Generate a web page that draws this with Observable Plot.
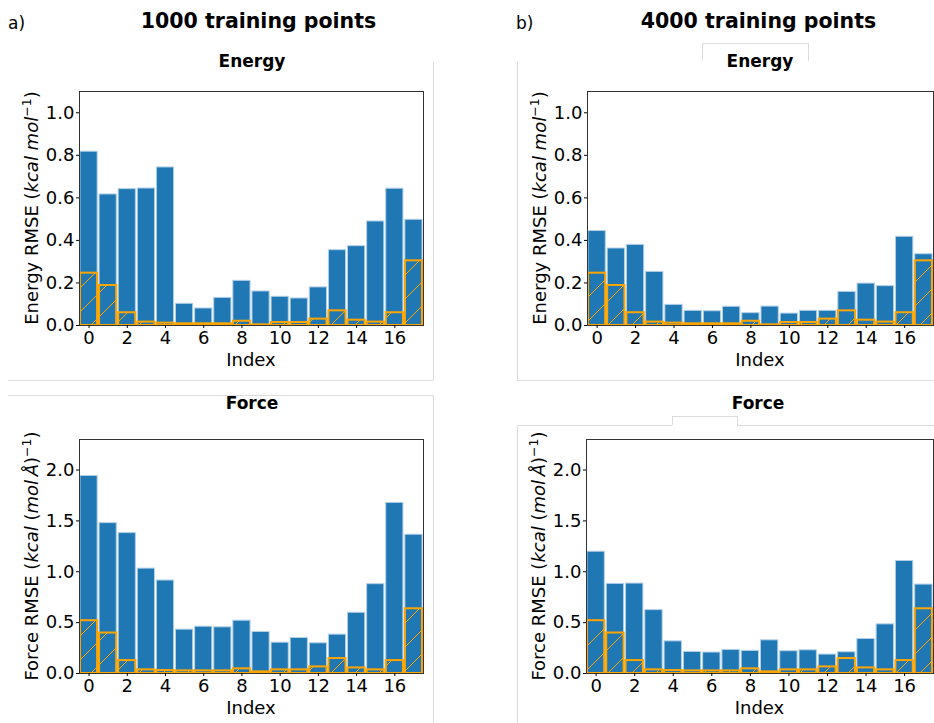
<!DOCTYPE html>
<html>
<head>
<meta charset="utf-8">
<script src="https://cdn.jsdelivr.net/npm/d3@7"></script>
<script src="https://cdn.jsdelivr.net/npm/@observablehq/plot@0.6"></script>
<style>
  body { margin: 0; background: #fff; font-family: "DejaVu Sans", sans-serif; }
  #fig { position: relative; width: 934px; height: 723px; overflow: hidden; background: #fff; }
  .panel { position: absolute; }
  .ln { position: absolute; background: #dcdcdc; }
  #overlay { position: absolute; left: 0; top: 0; pointer-events: none; }
</style>
</head>
<body>
<svg width="0" height="0" style="position:absolute">
  <defs>
    <pattern id="hatch" patternUnits="userSpaceOnUse" width="24" height="24">
      <path d="M0,24 L24,0 M-2,2 L2,-2 M22,26 L26,22" stroke="orange" stroke-width="1" fill="none"/>
    </pattern>
  </defs>
</svg>
<div id="fig"></div>
<script>
// ---------------- data ----------------
const indices = [0, 1, 2, 3, 4, 5, 6, 7, 8, 9, 10, 11, 12, 13, 14, 15, 16, 17];
const xTicks = [0, 2, 4, 6, 8, 10, 12, 14, 16];
const energyTicks = [0.0, 0.2, 0.4, 0.6, 0.8, 1.0];
const forceTicks = [0.0, 0.5, 1.0, 1.5, 2.0];

const energy1000 = [0.817, 0.616, 0.641, 0.644, 0.743, 0.102, 0.080, 0.130, 0.210, 0.160, 0.135, 0.127, 0.179, 0.354, 0.373, 0.489, 0.643, 0.497];
const energy4000 = [0.444, 0.362, 0.379, 0.252, 0.097, 0.069, 0.067, 0.088, 0.058, 0.089, 0.056, 0.069, 0.069, 0.158, 0.197, 0.185, 0.417, 0.335];
const energyRef  = [0.246, 0.188, 0.060, 0.016, 0.011, 0.008, 0.008, 0.008, 0.020, 0.003, 0.014, 0.014, 0.030, 0.069, 0.025, 0.016, 0.060, 0.304];

const force1000 = [1.941, 1.478, 1.380, 1.031, 0.914, 0.431, 0.460, 0.454, 0.519, 0.408, 0.303, 0.349, 0.297, 0.382, 0.597, 0.878, 1.677, 1.364];
const force4000 = [1.197, 0.881, 0.884, 0.623, 0.316, 0.212, 0.206, 0.232, 0.222, 0.326, 0.219, 0.228, 0.186, 0.209, 0.339, 0.483, 1.106, 0.874];
const forceRef  = [0.519, 0.398, 0.127, 0.036, 0.029, 0.026, 0.026, 0.026, 0.046, 0.016, 0.036, 0.036, 0.065, 0.147, 0.055, 0.036, 0.127, 0.636];

const panelTitles = ["1000 training points", "4000 training points"];
const panelLetters = ["a)", "b)"];
const subTitles = ["Energy", "Force"];

// ---------------- drawing ----------------
const fig = document.getElementById("fig");
const FONT = "DejaVu Sans, sans-serif";

function panel(cfg) {
  const blue = indices.map((i, k) => ({index: i, value: cfg.values[k]}));
  const ref = indices.map((i, k) => ({index: i, value: cfg.ref[k]}));
  const chart = Plot.plot({
    width: cfg.width,
    height: cfg.height,
    marginLeft: cfg.ml, marginRight: cfg.mr, marginTop: cfg.mt, marginBottom: cfg.mb,
    style: {fontFamily: FONT, fontSize: "18px", color: "#000", background: "transparent", overflow: "visible"},
    x: {type: "band", domain: indices, paddingInner: 0.1, paddingOuter: 0.05, round: false},
    y: {domain: [0, cfg.yMax]},
    marks: [
      Plot.barY(blue, {x: "index", y: "value", fill: "#1f77b4", stroke: "#b3d0e8", strokeWidth: 1}),
      Plot.barY(ref, {x: "index", y: "value", fill: "url(#hatch)", stroke: "orange", strokeWidth: 2}),
      Plot.frame({stroke: "#333", strokeWidth: 1}),
      Plot.axisX({ticks: xTicks, tickSize: 3, tickPadding: 3, label: null}),
      Plot.axisY({ticks: cfg.yTicks, tickFormat: d => d.toFixed(1), tickSize: 3, tickPadding: 2, label: null})
    ]
  });
  const svg = d3.select(chart);
  const fx = (cfg.ml + cfg.width - cfg.mr) / 2;
  const fy = (cfg.mt + cfg.height - cfg.mb) / 2;
  // x label
  svg.append("text")
    .attr("x", fx).attr("y", cfg.height - cfg.mb + 41)
    .attr("text-anchor", "middle")
    .attr("font-family", FONT).attr("font-size", 18).attr("fill", "#000")
    .text("Index");
  // y label with italic units & superscript
  const t = svg.append("text")
    .attr("transform", `translate(${cfg.ml - 41},${fy}) rotate(-90)`)
    .attr("text-anchor", "middle")
    .attr("font-family", FONT).attr("font-size", 18).attr("fill", "#000");
  cfg.ylabel.forEach(part => {
    const s = t.append("tspan").text(part.t);
    if (part.i) s.attr("font-style", "italic");
    if (part.sup) s.attr("font-size", 12.6).attr("dy", -7);
    if (part.down) s.attr("dy", 7);
  });
  chart.style.position = "absolute";
  chart.style.left = cfg.left + "px";
  chart.style.top = cfg.top + "px";
  fig.appendChild(chart);
}

const energyLabel = [
  {t: "Energy RMSE ("}, {t: "kcal mol", i: true}, {t: "\u22121", sup: true}, {t: ")", down: true}
];
const forceLabel = [
  {t: "Force RMSE ("}, {t: "kcal", i: true}, {t: " ("}, {t: "mol\u2009\u00C5", i: true}, {t: ")"},
  {t: "\u22121", sup: true}, {t: ")", down: true}
];

// faint frame lines from the composed figure
const lines = [
  [433, 62, 1, 318], [8, 380, 425, 1], [8, 395, 425, 1], [433, 395, 1, 328],
  [517, 62, 1, 318], [517, 380, 417, 1],
  [702, 43, 106, 1], [808, 43, 1, 18], [702, 43, 1, 18],
  [517, 425, 155, 1], [672, 416, 1, 9], [672, 416, 65, 1], [737, 416, 1, 9], [737, 425, 197, 1],
  [517, 425, 1, 298]
];
lines.forEach(([x, y, w, h]) => {
  const d = document.createElement("div");
  d.className = "ln";
  Object.assign(d.style, {left: x + "px", top: y + "px", width: w + "px", height: h + "px"});
  fig.appendChild(d);
});

panel({left: 0, top: 80, width: 434, height: 300, ml: 79, mr: 11, mt: 11, mb: 55,
       values: energy1000, ref: energyRef, yMax: 1.1, yTicks: energyTicks, ylabel: energyLabel});
panel({left: 517, top: 80, width: 417, height: 300, ml: 70, mr: 1, mt: 11, mb: 55,
       values: energy4000, ref: energyRef, yMax: 1.1, yTicks: energyTicks, ylabel: energyLabel});
panel({left: 0, top: 428, width: 434, height: 295, ml: 79, mr: 11, mt: 11, mb: 50,
       values: force1000, ref: forceRef, yMax: 2.3, yTicks: forceTicks, ylabel: forceLabel});
panel({left: 517, top: 428, width: 417, height: 295, ml: 69, mr: 1, mt: 11, mb: 50,
       values: force4000, ref: forceRef, yMax: 2.3, yTicks: forceTicks, ylabel: forceLabel});

// titles
const ov = d3.select(fig).append("svg").attr("id", "overlay").attr("width", 934).attr("height", 723)
  .attr("font-family", FONT).attr("fill", "#000");
const colX = [{letter: 8, title: 258.5, sub: 252}, {letter: 516, title: 758.5, sub: 760}];
colX.forEach((c, k) => {
  ov.append("text").attr("x", c.letter).attr("y", 29).attr("font-size", 17).text(panelLetters[k]);
  ov.append("text").attr("x", c.title).attr("y", 28).attr("font-size", 20.5).attr("font-weight", "bold")
    .attr("text-anchor", "middle").text(panelTitles[k]);
  ov.append("text").attr("x", c.sub).attr("y", 67).attr("font-size", 17).attr("font-weight", "bold")
    .attr("text-anchor", "middle").text(subTitles[0]);
  ov.append("text").attr("x", k === 0 ? 252 : 758).attr("y", 409).attr("font-size", 17).attr("font-weight", "bold")
    .attr("text-anchor", "middle").text(subTitles[1]);
});
</script>
</body>
</html>
